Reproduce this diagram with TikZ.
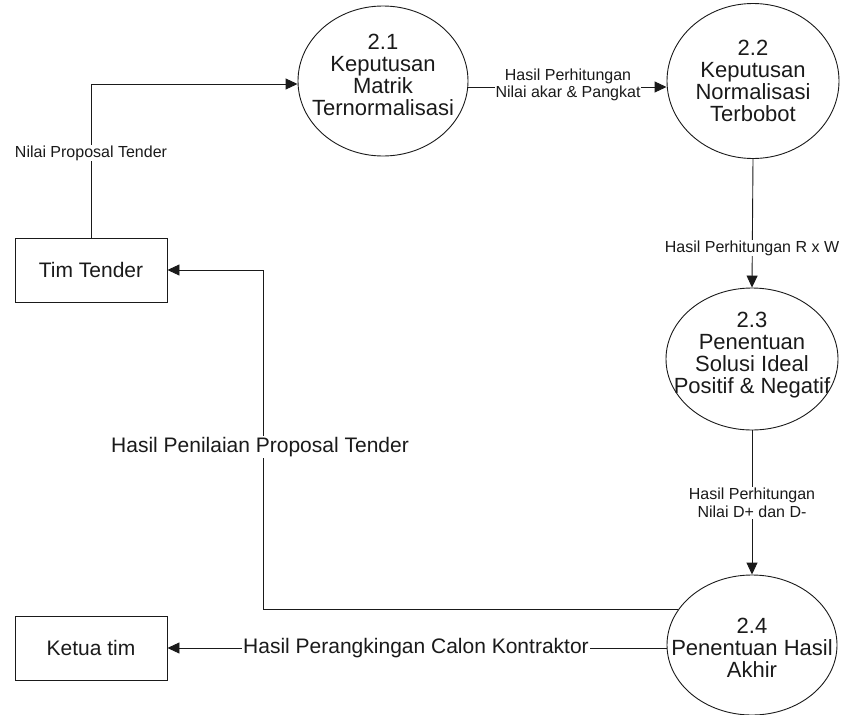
\documentclass[tikz,border=0pt]{standalone}
\usepackage{fontspec}
\setmainfont{Liberation Sans}
\usetikzlibrary{arrows.meta,shapes.geometric}
\definecolor{ink}{HTML}{1A1A1A}
\tikzset{
  proc/.style={draw=ink, line width=0.9pt, ellipse, inner sep=0pt},
  ptext/.style={align=center, text=ink, inner sep=0pt, font=\fontsize{22}{22}\selectfont},
  entity/.style={draw=ink, line width=0.9pt, rectangle, minimum width=152pt, minimum height=64pt, inner sep=0pt, text=ink, font=\fontsize{21}{21}\selectfont},
  flow/.style={draw=ink, line width=0.9pt},
  arr/.style={flow, -{Triangle[length=12pt,width=11pt]}},
  small/.style={fill=white, text=ink, align=center, inner sep=1pt, font=\fontsize{16}{17.5}\selectfont},
  big/.style={fill=white, text=ink, align=center, inner sep=1pt, font=\fontsize{21}{21}\selectfont}
}
\begin{document}
\begin{tikzpicture}[x=1pt,y=-1pt]
\useasboundingbox (0,0) rectangle (841,715);
% processes
\node[proc, minimum width=170pt, minimum height=150pt] (p21) at (383,81) {};
\node[proc, minimum width=172pt, minimum height=155pt] (p22) at (753,81) {};
\node[proc, minimum width=172pt, minimum height=142pt] (p23) at (752,359) {};
\node[proc, minimum width=170pt, minimum height=140pt] (p24) at (752,645) {};
\node[ptext] (t21) at (383,75) {2.1\\Keputusan\\Matrik\\Ternormalisasi};
\node[ptext] (t22) at (753,81) {2.2\\Keputusan\\Normalisasi\\Terbobot};
\node[ptext] (t23) at (752,355) {2.3\\Penentuan\\Solusi Ideal\\Positif \& Negatif};
\node[ptext] (t24) at (752,648) {2.4\\Penentuan Hasil\\Akhir};
% entities
\node[entity] (tt) at (91,270) {Tim Tender};
\node[entity] (kt) at (91,648) {Ketua tim};
\coordinate (c1) at (263,270);
% flows
\draw[arr] (tt.north) |- ([yshift=-3pt]p21.west);
\draw[arr] ([yshift=-6pt]p21.east) -- ([yshift=-6pt]p22.west);
\draw[arr] (p22.south) -- (p23.north);
\draw[arr] (p23.south) -- (p24.north);
\draw[arr] (p24.154.7) -| (c1) -- (tt.east);
\draw[arr] (p24.west |- kt.east) -- (kt.east);
% labels
\node[small] (l1) at (91,153) {Nilai Proposal Tender};
\node[small] (l2) at (568,85) {Hasil Perhitungan\\Nilai akar \& Pangkat};
\node[small] (l3) at (752,248) {Hasil Perhitungan R x W};
\node[small] (l4) at (752,503) {Hasil Perhitungan\\Nilai D+ dan D-};
\node[big] (l5) at (260,447) {Hasil Penilaian Proposal Tender};
\node[big] (l6) at (416,648) {Hasil Perangkingan Calon Kontraktor};
\end{tikzpicture}
\end{document}
